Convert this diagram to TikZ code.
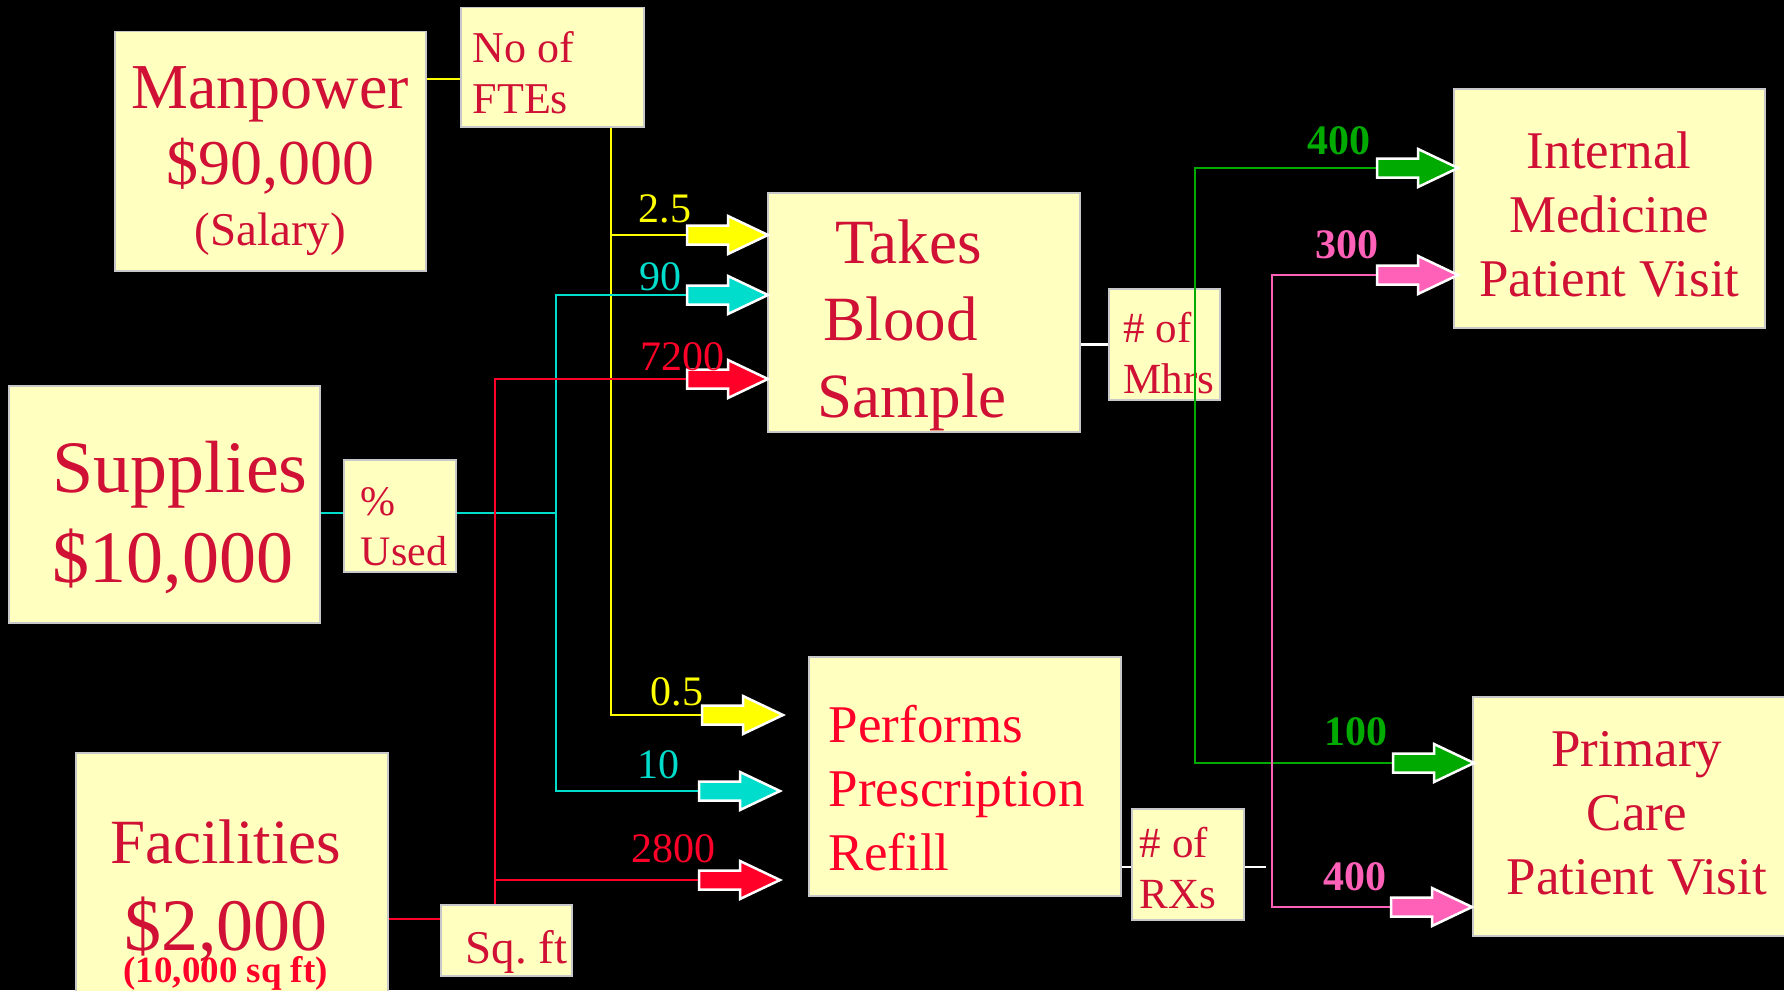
\documentclass[tikz,border=0pt]{standalone}
\usepackage{fontspec}
\setmainfont{Liberation Serif}
\usepackage{xcolor}
\usepackage{tikz}

\definecolor{boxfill}{RGB}{255,255,192}
\definecolor{boxline}{RGB}{200,200,200}
\definecolor{txtred}{RGB}{208,16,52}
\definecolor{brightred}{RGB}{255,0,40}
\definecolor{fyellow}{RGB}{255,255,0}
\definecolor{fcyan}{RGB}{0,221,204}
\definecolor{fgreen}{RGB}{0,170,0}
\definecolor{fpink}{RGB}{255,96,184}

% struts that fix the first baseline and the box bottom
\newcommand{\boxtop}[1]{\rule{0pt}{#1pt}}
\newcommand{\boxbot}[1]{\rule[-#1pt]{0pt}{#1pt}}

\begin{document}
\begin{tikzpicture}[x=1pt, y=-1pt,
  box/.style={draw=boxline, line width=1.5, fill=boxfill, text=txtred, inner sep=0, anchor=north west},
  link/.style={line width=2.5},
  num/.style={anchor=base, font=\fontsize{42}{50}\selectfont},
  bnum/.style={anchor=base, font=\fontsize{42}{50}\selectfont\bfseries},
  pics/flow/.style={code={\filldraw[draw=white, line width=2.5, fill=#1] (0,0) -- (-40,-19) -- (-40,-9.5) -- (-81,-9.5) -- (-81,9.5) -- (-40,9.5) -- (-40,19) -- cycle;}}]
\fill[black] (0,0) rectangle (1784,990);
\useasboundingbox (0,0) rectangle (1784,990);

% cost pools
\node[box, text width=311pt, minimum height=239pt, align=flush center, font=\fontsize{64}{76}\selectfont] (manpower) at (114,31) {\boxtop{77}Manpower\\ \$90,000\\[-15pt] {\fontsize{47}{56}\selectfont (Salary)}\boxbot{25}};
\node[box, text width=311pt, minimum height=237pt, align=flush left, font=\fontsize{74}{90}\selectfont] (supplies) at (8,385) {\hspace*{44pt}\boxtop{107}Supplies\\ \hspace*{44pt}\$10,000\boxbot{40}};
\node[box, text width=312pt, minimum height=258pt, align=flush center, font=\fontsize{63}{87}\selectfont] (facilities) at (75,752) {\hspace*{-12pt}\boxtop{111}Facilities\\ \hspace*{-12pt}{\fontsize{74}{87}\selectfont\$2,000}\\[-55pt] \hspace*{-12pt}{\fontsize{37}{44}\selectfont\bfseries\color{brightred}(10,000 sq~ft)}\boxbot{28}};

% drivers
\node[box, text width=183pt, minimum height=119pt, align=flush left, font=\fontsize{44}{51}\selectfont] (fte) at (460,7) {\hspace*{12pt}\boxtop{55}No~of\\ \hspace*{12pt}FTEs\boxbot{13}};
\node[box, text width=112pt, minimum height=112pt, align=flush left, font=\fontsize{42}{50}\selectfont] (used) at (343,459) {\hspace*{17pt}\boxtop{56}\%\\ \hspace*{17pt}Used\boxbot{6}};
\node[box, text width=131pt, minimum height=71pt, align=flush left, font=\fontsize{47}{56}\selectfont] (sqft) at (440,904) {\hspace*{25pt}\boxtop{59}Sq.~ft\boxbot{12}};

% activities
\node[box, text width=312pt, minimum height=239pt, align=flush left, font=\fontsize{63}{77}\selectfont] (blood) at (767,192) {\hspace*{68pt}\boxtop{71}Takes\\ \hspace*{56pt}Blood\\ \hspace*{50pt}Sample\boxbot{14}};
\node[box, text width=312pt, minimum height=239pt, align=flush left, text=brightred, font=\fontsize{53}{64}\selectfont] (refill) at (808,656) {\hspace*{20pt}\boxtop{86}Performs\\ \hspace*{20pt}Prescription\\ \hspace*{20pt}Refill\boxbot{25}};
\node[box, text width=111pt, minimum height=111pt, align=flush left, font=\fontsize{43}{51}\selectfont] (mhrs) at (1108,288) {\hspace*{15pt}\boxtop{54}\#~of\\ \hspace*{15pt}Mhrs\boxbot{6}};
\node[box, text width=112pt, minimum height=111pt, align=flush left, font=\fontsize{43}{51}\selectfont] (rxs) at (1131,808) {\hspace*{8pt}\boxtop{49}\#~of\\ \hspace*{8pt}RXs\boxbot{11}};

% cost objects
\node[box, text width=311pt, minimum height=239pt, align=flush center, font=\fontsize{53}{64}\selectfont] (internal) at (1453,88) {\boxtop{80}Internal\\ Medicine\\ Patient~Visit\boxbot{31}};
\node[box, text width=312pt, minimum height=239pt, align=flush center, font=\fontsize{53}{64}\selectfont] (primary) at (1472,696) {\hspace*{16pt}\boxtop{70}Primary\\ \hspace*{16pt}Care\\ \hspace*{16pt}Patient~Visit\boxbot{41}};

% bus lines, rows and arrow tips
\coordinate (ybus) at (611,0);
\coordinate (cbus) at (556,0);
\coordinate (rbus) at (495,0);
\coordinate (gbus) at (1195,0);
\coordinate (pbus) at (1272,0);
\coordinate (fterow) at (0,79);
\coordinate (userow) at (0,513);
\coordinate (facrow) at (0,919);
\coordinate (rxout) at (1266,867);
\coordinate (y1) at (768,235);
\coordinate (y2) at (783,715);
\coordinate (c1) at (768,295);
\coordinate (c2) at (780,791);
\coordinate (r1) at (768,379);
\coordinate (r2) at (780,880);
\coordinate (g1) at (1458,168);
\coordinate (g2) at (1474,763);
\coordinate (p1) at (1458,275);
\coordinate (p2) at (1472,907);

% connectors
\draw[link,fyellow] (manpower.east |- fterow) -- (fte.west |- fterow);
\draw[link,fyellow] (fte.south -| ybus) |- (y2);
\draw[link,fyellow] (y1 -| ybus) -- (y1);
\draw[link,fcyan] (supplies.east |- userow) -- (used.west |- userow);
\draw[link,fcyan] (used.east |- userow) -- (userow -| cbus);
\draw[link,fcyan] (c1) -| (c2 -| cbus) -- (c2);
\draw[link,brightred] (facilities.east |- facrow) -- (sqft.west |- facrow);
\draw[link,brightred] (sqft.north -| rbus) |- (r1);
\draw[link,brightred] (r2 -| rbus) -- (r2);
\draw[link,white] (blood.east |- mhrs.west) -- (mhrs.west);
\draw[link,white] (refill.east |- rxout) -- (rxs.west |- rxout);
\draw[link,white] (rxs.east |- rxout) -- (rxout);
\draw[link,fgreen] (g1) -| (g2 -| gbus) -- (g2);
\draw[link,fpink] (p1) -| (p2 -| pbus) -- (p2);

% block arrows
\pic at (y1) {flow=fyellow};
\pic at (c1) {flow=fcyan};
\pic at (r1) {flow=brightred};
\pic at (y2) {flow=fyellow};
\pic at (c2) {flow=fcyan};
\pic at (r2) {flow=brightred};
\pic at (g1) {flow=fgreen};
\pic at (p1) {flow=fpink};
\pic at (g2) {flow=fgreen};
\pic at (p2) {flow=fpink};

% quantities
\node[num, fyellow] (n25) at (665,222) {2.5};
\node[num, fcyan] (n90) at (660,290) {90};
\node[num, brightred] (n7200) at (682,370) {7200};
\node[num, fyellow] (n05) at (677,705) {0.5};
\node[num, fcyan] (n10) at (658,778) {10};
\node[num, brightred] (n2800) at (673,862) {2800};
\node[bnum, fgreen] (n400a) at (1339,154) {400};
\node[bnum, fpink] (n300) at (1347,258) {300};
\node[bnum, fgreen] (n100) at (1356,745) {100};
\node[bnum, fpink] (n400b) at (1355,890) {400};
\end{tikzpicture}
\end{document}
